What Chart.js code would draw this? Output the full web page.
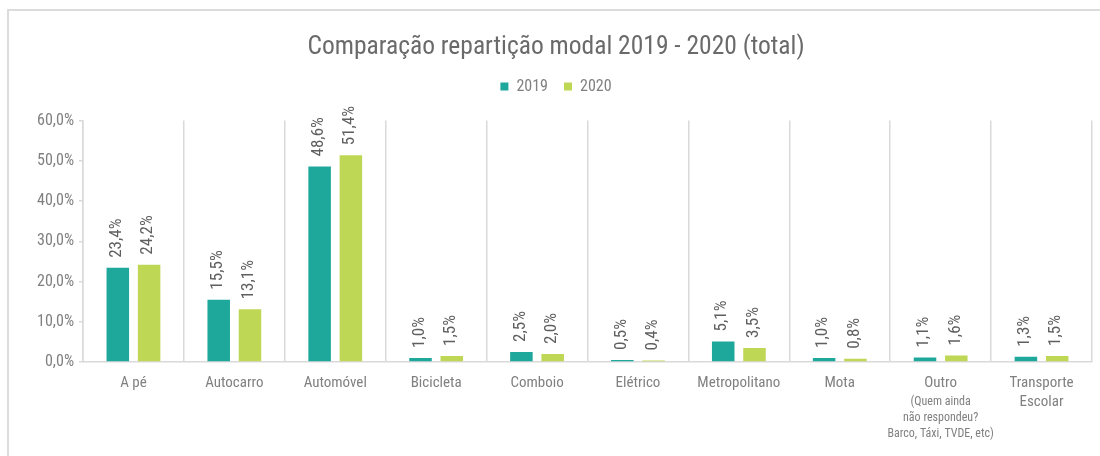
<!DOCTYPE html>
<html>
<head>
<meta charset="utf-8">
<script src="https://cdn.jsdelivr.net/npm/chart.js@4/dist/chart.umd.min.js"></script>
<style>
  body{margin:0;background:#fff;}
  #frame{position:absolute;left:7px;top:9px;width:1200px;height:600px;border:2px solid #dcdcdc;}
  #chart{position:absolute;left:0;top:0;}
</style>
</head>
<body>
<div id="frame"></div>
<canvas id="chart" width="1100" height="456"></canvas>
<script>
const categories = ['A pé','Autocarro','Automóvel','Bicicleta','Comboio','Elétrico','Metropolitano','Mota','Outro',['Transporte','Escolar']];
const values2019 = [23.4,15.5,48.6,1.0,2.5,0.5,5.1,1.0,1.1,1.3];
const values2020 = [24.2,13.1,51.4,1.5,2.0,0.4,3.5,0.8,1.6,1.5];
const outroNote = ['(Quem ainda','não respondeu?','Barco, Táxi, TVDE, etc)'];
const yTicks = [0,10,20,30,40,50,60];

const pct = v => v.toFixed(1).replace('.', ',') + '%';

Chart.defaults.font.family = "'Liberation Sans Narrow', 'Roboto Condensed', 'DejaVu Sans Condensed', sans-serif";

// value labels, rotated, above each bar
const barLabels = {
  id:'barLabels',
  afterDatasetsDraw(chart){
    const ctx = chart.ctx;
    ctx.save();
    ctx.font = "17px " + Chart.defaults.font.family;
    ctx.fillStyle = '#5f5f5f';
    chart.data.datasets.forEach((ds, di)=>{
      chart.getDatasetMeta(di).data.forEach((bar, i)=>{
        ctx.save();
        ctx.translate(bar.x - 1, bar.y - 10);
        ctx.rotate(-Math.PI/2);
        ctx.textAlign = 'left';
        ctx.textBaseline = 'middle';
        ctx.fillText(pct(ds.data[i]), 0, 0);
        ctx.restore();
      });
    });
    ctx.restore();
  }
};

// small note under "Outro"
const noteLabel = {
  id:'noteLabel',
  afterDraw(chart){
    const x = chart.scales.x;
    const ctx = chart.ctx;
    ctx.save();
    ctx.font = "12px " + Chart.defaults.font.family;
    ctx.fillStyle = '#808080';
    ctx.textAlign = 'center';
    ctx.textBaseline = 'middle';
    const px = x.getPixelForValue(categories.indexOf('Outro'));
    outroNote.forEach((t, i)=> ctx.fillText(t, px, x.top + 40 + i*16));
    ctx.restore();
  }
};

// extra room under the legend
const legendGap = {
  id:'legendGap',
  beforeInit(chart){
    const fit = chart.legend.fit;
    chart.legend.fit = function(){ fit.bind(chart.legend)(); this.height += 16; };
  }
};

new Chart(document.getElementById('chart'), {
  type:'bar',
  data:{
    labels:categories,
    datasets:[
      {label:'2019', data:values2019, backgroundColor:'#1ea79b', categoryPercentage:0.62, barPercentage:0.72},
      {label:'2020', data:values2020, backgroundColor:'#bed755', categoryPercentage:0.62, barPercentage:0.72}
    ]
  },
  options:{
    responsive:false,
    animation:false,
    layout:{padding:{left:20, right:8, top:0, bottom:0}},
    plugins:{
      title:{display:true, text:'Comparação repartição modal 2019 - 2020 (total)', color:'#6a6a6a',
        font:{size:25.5, weight:'normal'}, padding:{top:32, bottom:0}},
      legend:{display:true, labels:{boxWidth:8, boxHeight:8, padding:16, color:'#808080', font:{size:16}}},
      tooltip:{enabled:false}
    },
    scales:{
      x:{
        grid:{color:'#d9d9d9', lineWidth:1.5, drawTicks:false, offset:true},
        border:{display:true, color:'#d9d9d9', width:1.5},
        ticks:{color:'#808080', font:{size:15, lineHeight:1.3}, padding:11, maxRotation:0, autoSkip:false},
        afterFit(s){ s.height = 94; }
      },
      y:{
        min:0, max:60,
        grid:{drawOnChartArea:false, drawTicks:true, tickLength:4, color:'#d9d9d9', lineWidth:1.5},
        border:{display:true, color:'#d9d9d9', width:1.5},
        afterBuildTicks(s){ s.ticks = yTicks.map(v=>({value:v})); },
        ticks:{color:'#808080', font:{size:16}, padding:5, callback:v=>pct(v)},
        afterFit(s){ s.width = 63; }
      }
    }
  },
  plugins:[barLabels, noteLabel, legendGap]
});
</script>
</body>
</html>
